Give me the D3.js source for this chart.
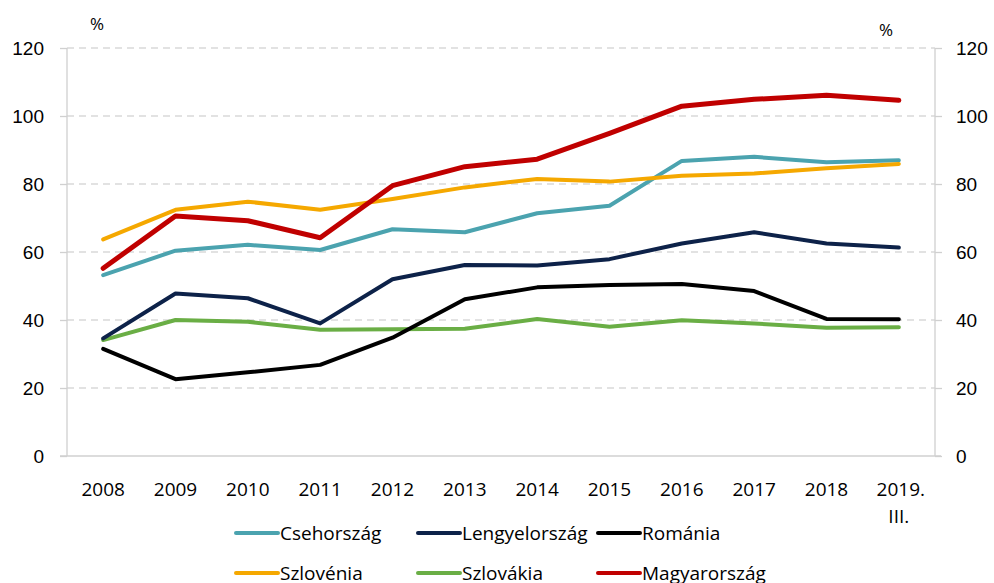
<!DOCTYPE html>
<html>
<head>
<meta charset="utf-8">
<script src="https://cdn.jsdelivr.net/npm/d3@7"></script>
<style>
  body { margin: 0; background: #fff; }
  svg { display: block; font-family: 'Open Sans', 'Liberation Sans', sans-serif; }
</style>
</head>
<body>
<div id="chart"></div>
<script>
const years = ['2008', '2009', '2010', '2011', '2012', '2013', '2014', '2015', '2016', '2017', '2018', '2019. III.'];
const yTicks = [0, 20, 40, 60, 80, 100, 120];

const csehorszag = [53.2, 60.4, 62.1, 60.6, 66.7, 65.8, 71.4, 73.6, 86.8, 88.0, 86.4, 87.0];
const lengyelorszag = [34.6, 47.8, 46.4, 39.0, 52.0, 56.2, 56.0, 57.9, 62.5, 65.8, 62.5, 61.3];
const romania = [31.5, 22.6, 24.6, 26.8, 34.8, 46.1, 49.6, 50.3, 50.6, 48.5, 40.3, 40.2];
const szlovenia = [63.7, 72.4, 74.8, 72.4, 75.6, 79.0, 81.5, 80.7, 82.4, 83.1, 84.6, 85.9];
const szlovakia = [34.1, 40.0, 39.5, 37.1, 37.3, 37.4, 40.3, 38.0, 39.9, 39.0, 37.7, 37.9];
const magyarorszag = [55.2, 70.6, 69.2, 64.2, 79.5, 85.1, 87.3, 94.9, 102.9, 104.9, 106.1, 104.6];

const series = [
  { name: 'Csehország', values: csehorszag, color: '#4BA3AF' },
  { name: 'Lengyelország', values: lengyelorszag, color: '#0D2249' },
  { name: 'Románia', values: romania, color: '#000000' },
  { name: 'Szlovénia', values: szlovenia, color: '#F5A800' },
  { name: 'Szlovákia', values: szlovakia, color: '#6AAE45' },
  { name: 'Magyarország', values: magyarorszag, color: '#C00000' },
];

const width = 994;
const height = 583;
const margin = { top: 48, right: 59, bottom: 127, left: 67 };
const innerWidth = width - margin.left - margin.right;
const innerHeight = height - margin.top - margin.bottom;

const xScale = d3.scaleBand().domain(years).range([0, innerWidth]);
const yScale = d3.scaleLinear().domain([0, 120]).range([innerHeight, 0]);
const xc = (d) => xScale(d) + xScale.bandwidth() / 2;

const svg = d3.select('#chart')
  .append('svg')
  .attr('width', width)
  .attr('height', height);

const g = svg.append('g')
  .attr('transform', `translate(${margin.left},${margin.top})`);

// gridlines (dashed), 0 is the solid axis
g.selectAll('.grid')
  .data(yTicks.filter((t) => t > 0))
  .enter()
  .append('line')
  .attr('x1', 0)
  .attr('x2', innerWidth)
  .attr('y1', (d) => yScale(d))
  .attr('y2', (d) => yScale(d))
  .attr('stroke', '#d9d9d9')
  .attr('stroke-width', 1.3)
  .attr('stroke-dasharray', '7,5');

// left axis
const leftAxis = g.append('g')
  .call(d3.axisLeft(yScale).tickValues(yTicks).tickSize(7).tickPadding(16));
// right axis
const rightAxis = g.append('g')
  .attr('transform', `translate(${innerWidth},0)`)
  .call(d3.axisRight(yScale).tickValues(yTicks).tickSize(7).tickPadding(14));

[leftAxis, rightAxis].forEach((ax) => {
  ax.select('.domain').attr('stroke', '#d0d0d0').attr('stroke-width', 1.3);
  ax.selectAll('.tick line').attr('stroke', '#d0d0d0').attr('stroke-width', 1.3);
  ax.selectAll('.tick text').attr('font-size', '19px').attr('fill', '#000');
});
// remove outer ticks of domain path so it's a straight line
leftAxis.select('.domain').attr('d', `M0,0V${innerHeight}`);
rightAxis.select('.domain').attr('d', `M0,0V${innerHeight}`);

// bottom axis line
g.append('line')
  .attr('x1', -7)
  .attr('x2', innerWidth + 6)
  .attr('y1', innerHeight)
  .attr('y2', innerHeight)
  .attr('stroke', '#d0d0d0')
  .attr('stroke-width', 1.3);

// x labels
const xLabels = g.append('g')
  .selectAll('text')
  .data(years)
  .enter()
  .append('text')
  .attr('x', (d) => xc(d))
  .attr('y', innerHeight + 40)
  .attr('text-anchor', 'middle')
  .attr('font-size', '19px')
  .attr('fill', '#000');
xLabels.each(function (d) {
  const parts = d.split(' ');
  const t = d3.select(this);
  parts.forEach((p, i) => {
    t.append('tspan')
      .attr('x', xc(d) + (i === 0 && parts.length > 1 ? 2 : 0))
      .attr('dy', i === 0 ? 0 : 27)
      .text(p);
  });
});

// % labels
svg.append('text').attr('x', 97).attr('y', 30).attr('text-anchor', 'middle')
  .attr('font-size', '17px').text('%');
svg.append('text').attr('x', 886).attr('y', 36).attr('text-anchor', 'middle')
  .attr('font-size', '17px').text('%');

// lines
const valueline = d3.line()
  .x((d, i) => xc(years[i]))
  .y((d) => yScale(d));

// draw order: green, black, navy, teal, orange, red on top
const order = ['Szlovákia', 'Románia', 'Lengyelország', 'Csehország', 'Szlovénia', 'Magyarország'];
order.forEach((name) => {
  const s = series.find((x) => x.name === name);
  g.append('path')
    .attr('fill', 'none')
    .attr('stroke', s.color)
    .attr('stroke-width', name === 'Magyarország' ? 5 : 4)
    .attr('stroke-linejoin', 'round')
    .attr('stroke-linecap', 'round')
    .attr('d', valueline(s.values));
});

// legend
const legendX = [236, 418, 598];
const legendY = [533, 573];
const legend = svg.append('g');
series.forEach((s, i) => {
  const lx = legendX[i % 3];
  const ly = legendY[Math.floor(i / 3)];
  legend.append('line')
    .attr('x1', lx)
    .attr('x2', lx + 42)
    .attr('y1', ly)
    .attr('y2', ly)
    .attr('stroke', s.color)
    .attr('stroke-width', 4)
    .attr('stroke-linecap', 'round');
  legend.append('text')
    .attr('x', lx + 44)
    .attr('y', ly + 7)
    .attr('font-size', '19px')
    .attr('fill', '#000')
    .text(s.name);
});
</script>
</body>
</html>
